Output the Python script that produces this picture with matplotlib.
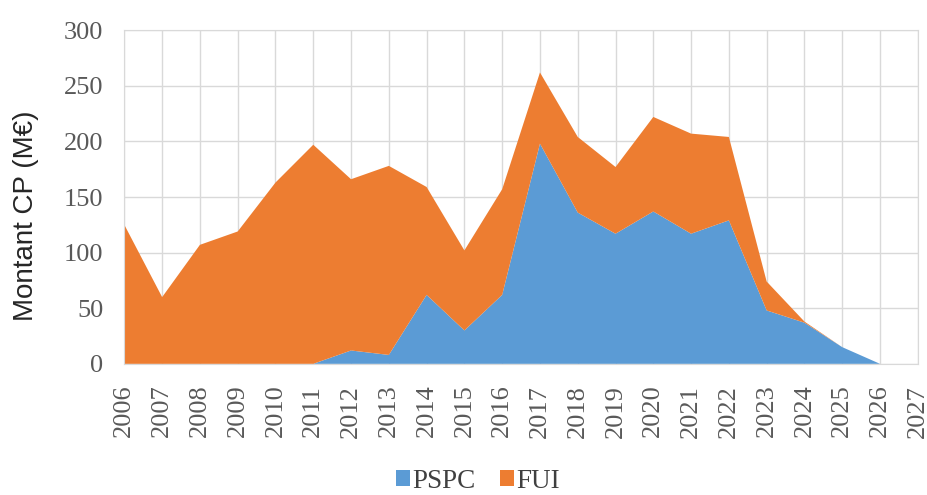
import matplotlib.pyplot as plt

plt.rcParams['font.family'] = ['Liberation Serif', 'DejaVu Serif']

years = list(range(2006, 2028))
total = [125, 60, 107, 119, 163, 197, 166, 178, 159, 102, 157, 262,
         204, 177, 222, 207, 204, 74, 38, 15, 0, 0]
pspc = [0, 0, 0, 0, 0, 0, 12, 8, 62, 30, 62, 198,
        136, 117, 137, 117, 129, 48, 37, 15, 0, 0]
fui = [t - p for t, p in zip(total, pspc)]

fig = plt.figure(figsize=(9.28, 4.95), dpi=100)
ax = fig.add_axes([0.134, 0.265, 0.855, 0.674])

ax.stackplot(years, pspc, fui, colors=['#5B9BD5', '#ED7D31'],
             labels=['PSPC', 'FUI'], zorder=2)

ax.set_xlim(2006, 2027)
ax.set_ylim(0, 300)
ax.set_xticks(years)
ax.set_xticklabels([str(y) for y in years], rotation=90)
ax.set_yticks(range(0, 301, 50))
ax.tick_params(length=0, labelsize=19, colors='#595959')
ax.tick_params(axis='y', pad=15)
ax.tick_params(axis='x', pad=15)
ax.grid(True, color='#d9d9d9', linewidth=1.0, zorder=0)
ax.set_axisbelow(True)
for s in ax.spines.values():
    s.set_color('#d9d9d9')
ax.set_ylabel('Montant CP (M€)', fontsize=20, color='#262626',
              family=['Liberation Sans', 'DejaVu Sans'])
ax.yaxis.set_label_coords(-0.107, 0.443)

ax.legend(loc='center', bbox_to_anchor=(0.446, -0.352), ncol=2,
          frameon=False, fontsize=19.5, handlelength=0.5, handleheight=0.5,
          handletextpad=0.1, columnspacing=0.9, labelcolor='#404040',
          borderpad=0)

fig.savefig('out.png', dpi=100)
